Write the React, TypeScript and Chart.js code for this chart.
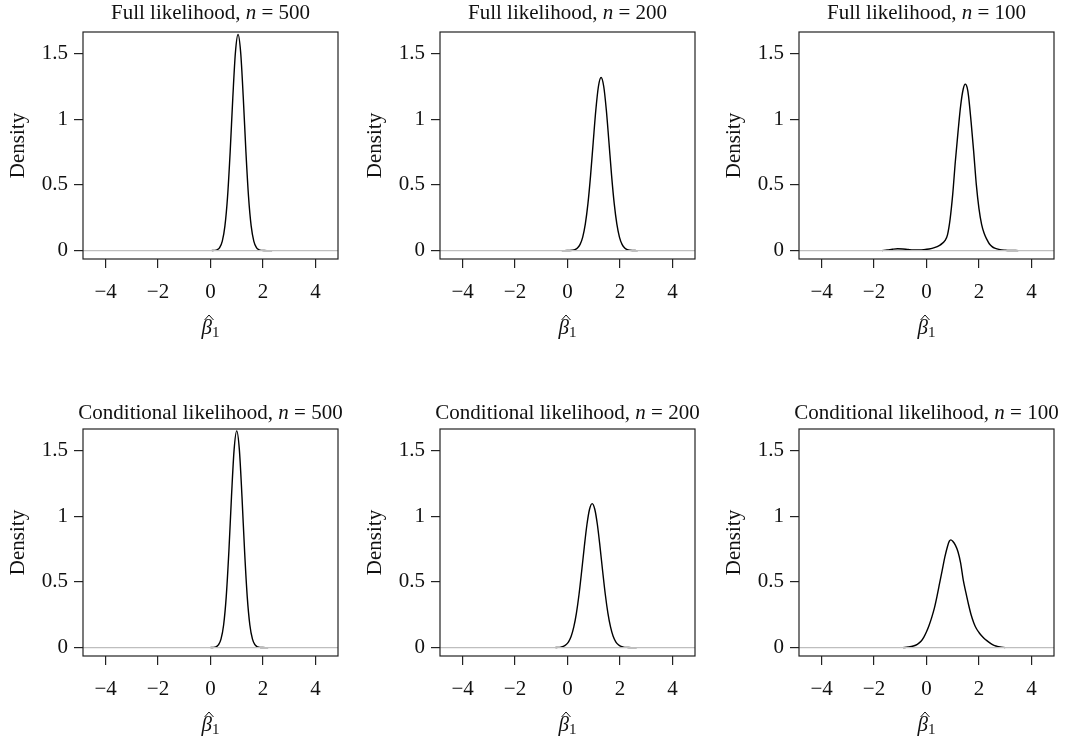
import React, { useEffect, useRef } from "react";
import { Chart, registerables } from "chart.js";

Chart.register(...registerables);

const FONT = '"Liberation Serif", "Times New Roman", serif';
const X_TICKS = [-4, -2, 0, 2, 4];
const Y_TICKS = [0, 0.5, 1, 1.5];
const X_MIN = -4.86;
const X_MAX = 4.86;
const Y_MIN = -0.064;
const Y_MAX = 1.664;

const titleNames = [
  "Full likelihood",
  "Full likelihood",
  "Full likelihood",
  "Conditional likelihood",
  "Conditional likelihood",
  "Conditional likelihood",
];
const sampleSizes = [500, 200, 100, 500, 200, 100];

// Full likelihood, n = 500
const xFull500 = [0.05, 0.15, 0.25, 0.35, 0.45, 0.55, 0.65, 0.75, 0.85, 0.95, 1.05, 1.15, 1.25, 1.35, 1.45, 1.55, 1.65, 1.75, 1.85, 1.95, 2.05, 2.15, 2.25, 2.35];
const yFull500 = [0.0003, 0.0015, 0.006, 0.023, 0.072, 0.188, 0.41, 0.753, 1.162, 1.508, 1.645, 1.508, 1.162, 0.753, 0.41, 0.188, 0.072, 0.023, 0.006, 0.0015, 0.0003, 0, 0, 0];

// Full likelihood, n = 200
const xFull200 = [-0.22, -0.12, -0.02, 0.08, 0.18, 0.28, 0.38, 0.48, 0.58, 0.68, 0.78, 0.88, 0.98, 1.08, 1.18, 1.28, 1.38, 1.48, 1.58, 1.68, 1.78, 1.88, 1.98, 2.08, 2.18, 2.28, 2.38, 2.48, 2.58, 2.68];
const yFull200 = [0, 0, 0.0002, 0.0007, 0.0024, 0.0072, 0.0195, 0.047, 0.103, 0.203, 0.359, 0.573, 0.825, 1.07, 1.251, 1.318, 1.251, 1.07, 0.825, 0.573, 0.359, 0.203, 0.103, 0.047, 0.0195, 0.0072, 0.0024, 0.0007, 0.0002, 0];

// Full likelihood, n = 100
const xFull100 = [-1.7, -1.5, -1.3, -1.1, -0.9, -0.7, -0.5, -0.3, -0.1, 0.1, 0.3, 0.5, 0.6, 0.7, 0.8, 0.9, 1.0, 1.1, 1.2, 1.3, 1.4, 1.48, 1.55, 1.6, 1.7, 1.8, 1.9, 2.0, 2.1, 2.2, 2.3, 2.4, 2.5, 2.6, 2.8, 3.0, 3.2, 3.5];
const yFull100 = [0, 0.004, 0.01, 0.014, 0.012, 0.008, 0.005, 0.005, 0.007, 0.012, 0.022, 0.04, 0.055, 0.075, 0.12, 0.24, 0.43, 0.68, 0.9, 1.1, 1.23, 1.267, 1.24, 1.18, 0.98, 0.75, 0.5, 0.32, 0.2, 0.13, 0.085, 0.05, 0.03, 0.018, 0.007, 0.003, 0.001, 0];

// Conditional likelihood, n = 500
const xCond500 = [0.0, 0.1, 0.2, 0.3, 0.4, 0.5, 0.6, 0.7, 0.8, 0.9, 1.0, 1.1, 1.2, 1.3, 1.4, 1.5, 1.6, 1.7, 1.8, 1.9, 2.0, 2.1, 2.2];
const yCond500 = [0.0002, 0.001, 0.005, 0.02, 0.064, 0.172, 0.388, 0.731, 1.149, 1.507, 1.65, 1.507, 1.149, 0.731, 0.388, 0.172, 0.064, 0.02, 0.005, 0.001, 0.0002, 0, 0];

// Conditional likelihood, n = 200
const xCond200 = [-0.46, -0.36, -0.26, -0.16, -0.06, 0.04, 0.14, 0.24, 0.34, 0.44, 0.54, 0.64, 0.74, 0.84, 0.94, 1.04, 1.14, 1.24, 1.34, 1.44, 1.54, 1.64, 1.74, 1.84, 1.94, 2.04, 2.14, 2.24, 2.34, 2.44, 2.54, 2.64];
const yCond200 = [0.0004, 0.0013, 0.0036, 0.009, 0.021, 0.044, 0.086, 0.157, 0.263, 0.406, 0.581, 0.767, 0.935, 1.053, 1.096, 1.053, 0.935, 0.767, 0.581, 0.406, 0.263, 0.157, 0.086, 0.044, 0.021, 0.009, 0.0036, 0.0013, 0.0004, 0.0001, 0, 0];

// Conditional likelihood, n = 100
const xCond100 = [-0.9, -0.7, -0.5, -0.35, -0.2, -0.1, 0.0, 0.1, 0.2, 0.3, 0.4, 0.5, 0.6, 0.7, 0.8, 0.87, 0.93, 1.0, 1.1, 1.2, 1.3, 1.4, 1.5, 1.6, 1.7, 1.8, 1.9, 2.0, 2.1, 2.2, 2.3, 2.4, 2.5, 2.6, 2.7, 2.8, 3.0];
const yCond100 = [0, 0.004, 0.012, 0.025, 0.05, 0.08, 0.12, 0.17, 0.23, 0.3, 0.39, 0.49, 0.59, 0.69, 0.77, 0.81, 0.82, 0.81, 0.78, 0.73, 0.645, 0.515, 0.42, 0.33, 0.25, 0.19, 0.145, 0.115, 0.09, 0.07, 0.053, 0.038, 0.025, 0.015, 0.009, 0.005, 0];

const seriesX = [xFull500, xFull200, xFull100, xCond500, xCond200, xCond100];
const seriesY = [yFull500, yFull200, yFull100, yCond500, yCond200, yCond100];

const CANVAS_W = 353;
const CANVAS_H = 344;
const colLefts = [0, 357, 716];
const rowTops = [0, 397];
const titleBaselines = [19, 22];

const fmtTick = (v: number) => (v < 0 ? "\u2212" + Math.abs(v) : String(v));

const framePlugin = {
  id: "frame",
  afterDraw(chart: any, _args: any, opts: any) {
    const { ctx, chartArea: a } = chart;
    ctx.save();
    // box
    ctx.strokeStyle = "#222";
    ctx.lineWidth = 1.2;
    ctx.strokeRect(a.left, a.top, a.right - a.left, a.bottom - a.top);
    const cx = (a.left + a.right) / 2;
    const cy = (a.top + a.bottom) / 2;
    ctx.fillStyle = "#111";
    // title with italic n
    const parts = [
      { t: opts.title + ", ", f: `21px ${FONT}` },
      { t: "n", f: `italic 21px ${FONT}` },
      { t: " = " + opts.n, f: `21px ${FONT}` },
    ];
    let total = 0;
    for (const p of parts) {
      ctx.font = p.f;
      total += ctx.measureText(p.t).width;
    }
    let x = cx - total / 2;
    ctx.textBaseline = "alphabetic";
    ctx.textAlign = "left";
    for (const p of parts) {
      ctx.font = p.f;
      ctx.fillText(p.t, x, opts.titleY);
      x += ctx.measureText(p.t).width;
    }
    // y label
    ctx.save();
    ctx.translate(18, cy);
    ctx.rotate(-Math.PI / 2);
    ctx.font = `21px ${FONT}`;
    ctx.textAlign = "center";
    ctx.textBaseline = "middle";
    ctx.fillText("Density", 0, 0);
    ctx.restore();
    // x label: beta-hat sub 1
    ctx.font = `italic 21px ${FONT}`;
    const wb = ctx.measureText("\u03b2").width;
    ctx.font = `15px ${FONT}`;
    const w1 = ctx.measureText("1").width;
    const bx = cx - (wb + w1) / 2;
    const by = a.bottom + 75;
    ctx.textAlign = "left";
    ctx.textBaseline = "alphabetic";
    ctx.font = `italic 21px ${FONT}`;
    ctx.fillText("\u03b2", bx, by);
    ctx.font = `15px ${FONT}`;
    ctx.fillText("1", bx + wb, by + 3);
    // wide hat
    ctx.strokeStyle = "#111";
    ctx.lineWidth = 1;
    ctx.beginPath();
    ctx.moveTo(bx + 0.2 * wb + 1, by - 14);
    ctx.lineTo(bx + 0.62 * wb + 1, by - 19);
    ctx.lineTo(bx + 1.05 * wb + 1, by - 14);
    ctx.stroke();
    ctx.restore();
  },
};

function Panel({ idx }: { idx: number }) {
  const ref = useRef<HTMLCanvasElement | null>(null);
  const row = Math.floor(idx / 3);
  const col = idx % 3;
  useEffect(() => {
    if (!ref.current) return;
    const xs = seriesX[idx];
    const ys = seriesY[idx];
    const chart = new Chart(ref.current, {
      type: "line",
      data: {
        datasets: [
          {
            data: [
              { x: X_MIN, y: 0 },
              { x: X_MAX, y: 0 },
            ],
            borderColor: "#bebebe",
            borderWidth: 1.3,
            pointRadius: 0,
          },
          {
            data: xs.map((x, i) => ({ x, y: ys[i] })),
            borderColor: "#000",
            borderWidth: 1.4,
            pointRadius: 0,
            cubicInterpolationMode: "monotone",
          },
        ],
      },
      options: {
        responsive: false,
        animation: false,
        devicePixelRatio: 1,
        events: [],
        layout: { padding: { top: 32, right: 15, left: 0, bottom: 0 } },
        plugins: {
          legend: { display: false },
          tooltip: { enabled: false },
          title: { display: false },
          frame: {
            title: titleNames[idx],
            n: sampleSizes[idx],
            titleY: titleBaselines[row],
          },
        } as any,
        scales: {
          x: {
            type: "linear",
            min: X_MIN,
            max: X_MAX,
            afterFit: (s: any) => {
              s.height = 85;
            },
            afterBuildTicks: (s: any) => {
              s.ticks = X_TICKS.map((v) => ({ value: v }));
            },
            grid: {
              display: true,
              drawOnChartArea: false,
              drawTicks: true,
              tickLength: 9,
              color: "#222",
              lineWidth: 1.2,
            },
            border: { display: false },
            ticks: {
              autoSkip: false,
              maxRotation: 0,
              minRotation: 0,
              padding: 12,
              color: "#111",
              font: { family: FONT, size: 21 },
              callback: (v: any) => fmtTick(Number(v)),
            },
          },
          y: {
            type: "linear",
            min: Y_MIN,
            max: Y_MAX,
            afterFit: (s: any) => {
              s.width = 83;
            },
            afterBuildTicks: (s: any) => {
              s.ticks = Y_TICKS.map((v) => ({ value: v }));
            },
            grid: {
              display: true,
              drawOnChartArea: false,
              drawTicks: true,
              tickLength: 9,
              color: "#222",
              lineWidth: 1.2,
            },
            border: { display: false },
            ticks: {
              autoSkip: false,
              padding: 6,
              color: "#111",
              font: { family: FONT, size: 21 },
              callback: (v: any) => fmtTick(Number(v)),
            },
          },
        },
      },
      plugins: [framePlugin as any],
    });
    return () => chart.destroy();
  }, [idx]);
  return (
    <canvas
      ref={ref}
      width={CANVAS_W}
      height={CANVAS_H}
      style={{
        position: "absolute",
        left: colLefts[col],
        top: rowTops[row],
        width: CANVAS_W,
        height: CANVAS_H,
      }}
    />
  );
}

export default function App() {
  return (
    <div
      style={{
        position: "absolute",
        left: 0,
        top: 0,
        width: 1069,
        height: 742,
        background: "#fff",
        overflow: "hidden",
      }}
    >
      {[0, 1, 2, 3, 4, 5].map((i) => (
        <Panel key={i} idx={i} />
      ))}
    </div>
  );
}
